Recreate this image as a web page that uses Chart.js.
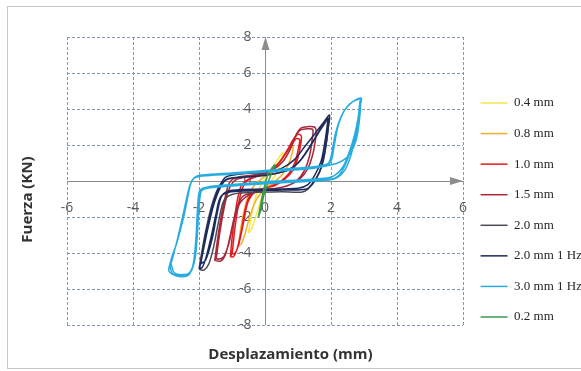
<!DOCTYPE html>
<html>
<head>
<meta charset="utf-8">
<script src="https://cdn.jsdelivr.net/npm/chart.js@4.4.1/dist/chart.umd.min.js"></script>
<style>
  html, body { margin: 0; padding: 0; background: #ffffff; overflow: hidden; }
  #wrap { position: relative; width: 581px; height: 371px; }
</style>
</head>
<body>
<div id="wrap"><canvas id="c" width="581" height="371"></canvas></div>
<script>
// ---- data (x: Desplazamiento mm, y: Fuerza kN) ----
const seriesLabels = ['0.4 mm', '0.8 mm', '1.0 mm', '1.5 mm', '2.0 mm', '2.0 mm 1 Hz', '3.0 mm 1 Hz', '0.2 mm'];
const xTickValues = [-6, -4, -2, 0, 2, 4, 6];
const yTickValues = [-8, -6, -4, -2, 0, 2, 4, 6, 8];
const xTitle = 'Desplazamiento (mm)';
const yTitle = 'Fuerza (KN)';

const loop04 = [
  [-0.5,-2.9],[-0.42,-2.0],[-0.3,-1.0],[-0.15,-0.3],[0.05,0.25],[0.25,0.8],[0.42,1.3],[0.55,1.6],
  [0.5,1.2],[0.38,0.6],[0.2,0.0],[0.0,-0.5],[-0.15,-1.2],[-0.3,-2.1],[-0.42,-2.7],[-0.5,-2.9]
];
const loop08 = [
  [-0.8,-3.6],[-0.75,-2.8],[-0.65,-1.8],[-0.5,-0.8],[-0.3,-0.2],[-0.05,0.2],[0.2,0.55],[0.45,1.1],[0.65,1.6],[0.8,1.95],[0.85,1.9],
  [0.82,1.5],[0.7,0.9],[0.5,0.3],[0.25,-0.1],[0.0,-0.45],[-0.25,-1.0],[-0.45,-1.9],[-0.6,-2.9],[-0.72,-3.5],[-0.8,-3.6]
];
const loop10 = [
  [-1.05,-4.2],[-1.0,-3.2],[-0.92,-2.0],[-0.82,-0.9],[-0.7,-0.2],[-0.45,0.15],[-0.1,0.35],[0.25,0.7],[0.5,1.2],[0.7,1.8],[0.85,2.3],[1.0,2.6],[1.1,2.5],
  [1.08,2.0],[1.0,1.3],[0.85,0.6],[0.6,0.1],[0.3,-0.25],[-0.1,-0.45],[-0.45,-0.8],[-0.6,-1.6],[-0.72,-2.8],[-0.85,-3.8],[-0.95,-4.2],[-1.05,-4.2],
  [-1.0,-4.05],[-0.93,-2.9],[-0.84,-1.7],[-0.72,-0.6],[-0.55,0.0],[-0.25,0.25],[0.1,0.5],[0.4,0.95],[0.62,1.5],[0.8,2.0],[0.95,2.35],[1.05,2.3],
  [1.0,1.7],[0.9,1.0],[0.72,0.4],[0.45,-0.05],[0.1,-0.35],[-0.3,-0.6],[-0.52,-1.2],[-0.65,-2.3],[-0.78,-3.4],[-0.9,-4.0],[-1.0,-4.05]
];
const loop15 = [
  [-1.52,-4.4],[-1.45,-3.4],[-1.35,-2.2],[-1.22,-1.0],[-1.08,-0.1],[-0.85,0.2],[-0.3,0.35],[0.2,0.6],[0.55,1.1],[0.8,1.9],[0.95,2.6],[1.1,2.95],[1.3,3.02],[1.5,3.0],[1.55,2.8],
  [1.53,2.3],[1.45,1.5],[1.3,0.7],[1.05,0.1],[0.7,-0.25],[0.2,-0.45],[-0.3,-0.6],[-0.7,-0.9],[-0.9,-1.8],[-1.05,-3.0],[-1.2,-4.1],[-1.35,-4.45],[-1.52,-4.4],
  [-1.48,-4.3],[-1.38,-3.0],[-1.25,-1.6],[-1.1,-0.5],[-0.9,0.05],[-0.5,0.25],[0.1,0.5],[0.5,1.0],[0.75,1.7],[0.9,2.4],[1.05,2.8],[1.3,2.9],[1.45,2.85],
  [1.42,2.2],[1.35,1.4],[1.2,0.6],[0.95,0.0],[0.6,-0.3],[0.1,-0.5],[-0.4,-0.7],[-0.75,-1.2],[-0.95,-2.3],[-1.1,-3.5],[-1.25,-4.2],[-1.4,-4.35],[-1.48,-4.3]
];
const loop20 = [
  [-2.0,-4.9],[-1.92,-4.0],[-1.8,-2.8],[-1.62,-1.4],[-1.42,-0.4],[-1.2,0.05],[-0.8,0.2],[0.0,0.35],[0.7,0.6],[1.1,1.2],[1.4,2.0],[1.7,2.9],[1.95,3.5],
  [1.92,3.0],[1.85,2.0],[1.75,1.0],[1.55,0.1],[1.3,-0.45],[1.1,-0.62],[0.5,-0.6],[-0.5,-0.65],[-1.0,-0.75],[-1.25,-1.1],[-1.4,-2.2],[-1.55,-3.6],[-1.7,-4.6],[-1.85,-4.95],[-2.0,-4.9]
];
const loop20Hz = [
  [-1.98,-4.85],[-1.9,-4.0],[-1.8,-3.0],[-1.68,-2.0],[-1.55,-1.1],[-1.38,-0.3],[-1.2,0.2],[-0.9,0.35],[0.0,0.5],[0.5,0.7],[0.9,1.2],[1.2,1.9],[1.5,2.6],[1.75,3.2],[1.95,3.67],
  [1.93,3.2],[1.88,2.4],[1.8,1.5],[1.65,0.5],[1.45,-0.1],[1.25,-0.45],[0.5,-0.5],[-0.5,-0.55],[-1.1,-0.62],[-1.35,-0.9],[-1.48,-1.8],[-1.62,-3.0],[-1.78,-4.2],[-1.9,-4.8],[-1.98,-4.85],
  [-1.95,-4.6],[-1.75,-2.8],[-1.55,-1.3],[-1.35,-0.35],[-1.15,0.1],[-0.8,0.2],[0.0,0.3],[0.6,0.55],[1.0,1.0],[1.35,1.9],[1.65,2.8],[1.9,3.5],
  [1.88,3.0],[1.8,2.0],[1.7,1.1],[1.5,0.3],[1.3,-0.2],[1.0,-0.4],[0.0,-0.45],[-1.0,-0.52],[-1.3,-0.8],[-1.45,-1.8],[-1.6,-3.2],[-1.8,-4.4],[-1.95,-4.6]
];
const loop30Hz = [
  [-2.92,-4.9],[-2.82,-4.2],[-2.7,-3.6],[-2.56,-2.7],[-2.44,-1.8],[-2.33,-0.8],[-2.24,-0.1],[-2.12,0.22],[-1.9,0.33],[-1.0,0.45],[0.0,0.58],[1.0,0.72],[1.7,0.85],[1.93,1.0],[2.03,1.6],[2.13,2.6],[2.3,3.55],[2.5,4.15],[2.72,4.48],[2.92,4.6],
  [2.9,4.3],[2.85,3.4],[2.75,2.5],[2.6,1.4],[2.42,0.6],[2.2,0.2],[1.95,0.05],[1.0,-0.05],[0.0,-0.15],[-1.0,-0.28],[-1.75,-0.4],[-1.95,-0.6],[-2.02,-1.3],[-2.06,-2.5],[-2.1,-3.7],[-2.17,-4.6],[-2.3,-5.2],[-2.5,-5.32],[-2.72,-5.25],[-2.88,-5.08],[-2.92,-4.9],
  [-2.85,-4.6],[-2.65,-3.2],[-2.45,-1.6],[-2.3,-0.4],[-2.15,0.15],[-1.9,0.28],[-1.0,0.38],[0.0,0.5],[1.0,0.62],[1.6,0.75],[2.2,1.0],[2.55,1.45],[2.75,2.2],[2.85,3.2],[2.9,4.3],
  [2.88,4.45],[2.83,3.6],[2.72,2.6],[2.55,1.6],[2.35,0.75],[2.1,0.3],[1.8,0.15],[1.0,0.05],[0.0,-0.05],[-1.0,-0.2],[-1.7,-0.32],[-1.92,-0.5],[-2.0,-1.5],[-2.05,-3.0],[-2.12,-4.3],[-2.25,-5.05],[-2.5,-5.2],[-2.75,-5.1],[-2.85,-4.6],
  [-2.88,-4.75],[-2.75,-3.9],[-2.6,-2.9],[-2.47,-1.9],[-2.36,-0.9],[-2.27,-0.2],[-2.15,0.18],[-1.95,0.3],[-1.0,0.42],[0.0,0.55],[1.0,0.68],[1.8,0.82],[2.0,1.1],[2.1,2.0],[2.22,3.1],[2.4,3.9],[2.65,4.4],[2.9,4.55],
  [2.87,4.2],[2.8,3.2],[2.68,2.2],[2.5,1.2],[2.3,0.45],[2.05,0.12],[1.0,0.0],[0.0,-0.1],[-1.0,-0.24],[-1.8,-0.36],[-1.98,-0.55],[-2.04,-1.4],[-2.08,-2.8],[-2.13,-4.0],[-2.2,-4.8],[-2.35,-5.2],[-2.6,-5.27],[-2.8,-5.15],[-2.88,-4.75]
];
const loop02 = [
  [-0.2,-2.0],[-0.12,-1.2],[-0.03,-0.4],[0.08,0.3],[0.2,0.7],[0.3,0.9],
  [0.28,0.75],[0.18,0.35],[0.05,-0.3],[-0.05,-0.9],[-0.12,-1.6],[-0.2,-2.0]
];

const seriesData = [loop04, loop08, loop10, loop15, loop20, loop20Hz, loop30Hz, loop02];
const seriesColors = ['#f4e84c', '#f0b02c', '#e3191e', '#a8283a', '#4a4a55', '#1c2b5e', '#27ace0', '#3a9a4c'];
const drawOrder = [7, 6, 5, 4, 3, 2, 0, 1];

const datasets = seriesLabels.map((lab, i) => ({
  label: lab,
  data: seriesData[i].map(p => ({x: p[0], y: p[1]})),
  borderColor: seriesColors[i],
  backgroundColor: seriesColors[i],
  borderWidth: 1.5,
  showLine: true,
  fill: false,
  pointRadius: 0,
  pointHoverRadius: 0,
  tension: 0.3,
  order: drawOrder[i]
}));

const frameAndArrows = {
  id: 'frameAndArrows',
  beforeDraw(chart) {
    const ctx = chart.ctx;
    ctx.save();
    ctx.fillStyle = '#ffffff';
    ctx.fillRect(0, 0, chart.width, chart.height);
    ctx.strokeStyle = '#c8c8c8';
    ctx.lineWidth = 1;
    ctx.strokeRect(7.5, 6.5, 640, 362);
    ctx.restore();
  },
  beforeDatasetsDraw(chart) {
    const ctx = chart.ctx;
    const area = chart.chartArea;
    const xs = chart.scales.x, ys = chart.scales.y;
    const x0 = Math.floor(xs.getPixelForValue(0)) + 0.5, y0 = ys.getPixelForValue(0);
    const xr = xs.getPixelForValue(xTickValues[xTickValues.length - 1]);
    const yt = ys.getPixelForValue(yTickValues[yTickValues.length - 1]);
    ctx.save();
    // vertical axis line at x = 0
    ctx.strokeStyle = '#8c8c8c';
    ctx.lineWidth = 1;
    ctx.beginPath();
    ctx.moveTo(x0, area.bottom); ctx.lineTo(x0, area.top + 6);
    ctx.stroke();
    ctx.fillStyle = '#8c8c8c';
    ctx.beginPath();
    ctx.moveTo(xr, y0); ctx.lineTo(xr - 13, y0 - 4); ctx.lineTo(xr - 13, y0 + 4); ctx.closePath(); ctx.fill();
    ctx.beginPath();
    ctx.moveTo(x0, yt); ctx.lineTo(x0 - 4, yt + 13); ctx.lineTo(x0 + 4, yt + 13); ctx.closePath(); ctx.fill();
    ctx.restore();
  }
};

const tickFont = {family: "'Open Sans', sans-serif", size: 14};

new Chart(document.getElementById('c'), {
  type: 'scatter',
  data: { datasets },
  plugins: [frameAndArrows],
  options: {
    responsive: false,
    animation: false,
    devicePixelRatio: 1,
    layout: { padding: { top: 37, left: 0, right: 0, bottom: 9 } },
    scales: {
      x: {
        type: 'linear',
        position: { y: 0 },
        min: xTickValues[0],
        max: xTickValues[xTickValues.length - 1],
        ticks: { stepSize: xTickValues[1] - xTickValues[0], font: tickFont, color: '#595959', padding: 18.6, maxRotation: 0 },
        grid: { color: '#8597b0', lineWidth: 1, drawTicks: false },
        border: { display: true, color: '#8c8c8c', width: 1, dash: [3, 2] }
      },
      y: {
        type: 'linear',
        // labels sit about 13.5 px left of the x = 0 axis line (drawn by the plugin)
        position: { x: -0.41 },
        min: yTickValues[0],
        max: yTickValues[yTickValues.length - 1],
        ticks: { stepSize: yTickValues[1] - yTickValues[0], font: tickFont, color: '#595959', padding: 0 },
        grid: { color: '#8597b0', lineWidth: 1, drawTicks: false },
        border: { display: false, dash: [3, 2] }
      }
    },
    plugins: {
      tooltip: { enabled: false },
      title: {
        display: true, position: 'bottom', text: xTitle, color: '#333333',
        font: {family: "'Open Sans', sans-serif", size: 15, weight: 'bold', lineHeight: 1.0},
        padding: { top: 22, bottom: 0 }
      },
      subtitle: {
        display: true, position: 'left', text: yTitle, color: '#333333',
        font: {family: "'Open Sans', sans-serif", size: 15, weight: 'bold', lineHeight: 1.2},
        padding: { top: 19, bottom: 30 }
      },
      legend: {
        display: true,
        position: 'right',
        align: 'center',
        maxWidth: 118,
        title: { display: true, text: '', font: {size: 12, lineHeight: 1}, padding: { top: 9, bottom: 0 } },
        labels: {
          usePointStyle: true,
          pointStyle: 'line',
          pointStyleWidth: 27,
          padding: 17.57,
          color: '#262626',
          font: { family: "'Liberation Serif', serif", size: 13 },
          sort: (a, b) => a.datasetIndex - b.datasetIndex
        }
      }
    }
  }
});
</script>
</body>
</html>
